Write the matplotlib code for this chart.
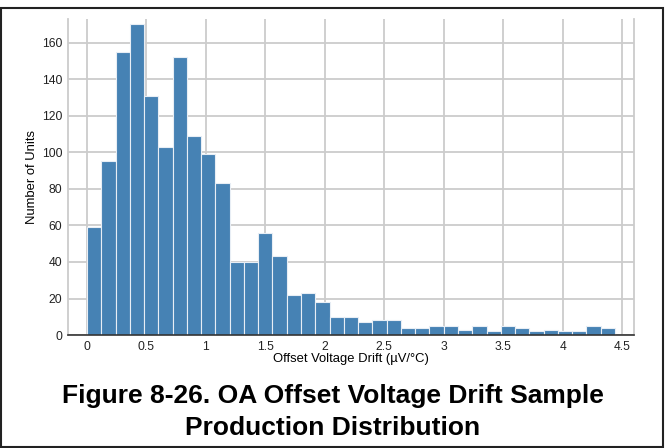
#!/usr/bin/env python3
import numpy as np
import matplotlib.pyplot as plt
from matplotlib.patches import Rectangle

# ================================
# DATA
# ================================

BIN_WIDTH = 0.12
counts = [59, 95, 155, 170, 131, 103, 152, 109, 99, 83,
          40, 40, 56, 43, 22, 23, 18, 10, 10, 7,
          8, 8, 4, 4, 5, 5, 3, 5, 2, 5,
          4, 2, 3, 2, 2, 5, 4]
bin_left = np.arange(len(counts)) * BIN_WIDTH

x_ticks = [0, 0.5, 1, 1.5, 2, 2.5, 3, 3.5, 4, 4.5]
x_tick_labels = ["0", "0.5", "1", "1.5", "2", "2.5", "3", "3.5", "4", "4.5"]
y_ticks = [0, 20, 40, 60, 80, 100, 120, 140, 160]

TITLE = "Figure 8-26. OA Offset Voltage Drift Sample\nProduction Distribution"

# ================================
# PLOT
# ================================

plt.rcParams["font.family"] = ["Liberation Sans", "DejaVu Sans"]

fig = plt.figure(figsize=(6.66, 4.48), dpi=100)
ax = fig.add_axes([0.102, 0.252, 0.85, 0.706])

ax.bar(bin_left, counts, width=BIN_WIDTH, align="edge",
       color="#4682b4", edgecolor="#e8eef5", linewidth=0.8, zorder=3)

ax.set_xlim(-0.16, 4.6)
ax.set_ylim(0, 173)
ax.set_xticks(x_ticks)
ax.set_xticklabels(x_tick_labels)
ax.set_yticks(y_ticks)

ax.grid(True, color="#cccccc", linewidth=1.3, zorder=0)
ax.tick_params(length=0, labelsize=8.7, colors="#222222", pad=4)

for side in ["left", "right"]:
    ax.spines[side].set_color("#cccccc")
    ax.spines[side].set_linewidth(1.3)
ax.spines["top"].set_visible(False)
ax.spines["bottom"].set_color("#333333")
ax.spines["bottom"].set_linewidth(1.2)
ax.spines["bottom"].set_zorder(4)

ax.set_xlabel("Offset Voltage Drift (µV/°C)", fontsize=9.4, labelpad=0)
ax.set_ylabel("Number of Units", fontsize=9.4, labelpad=3)

fig.text(0.5, 0.08, TITLE, ha="center", va="center", fontsize=19,
         fontweight="bold", linespacing=1.45)

# figure frame
fig.patches.append(Rectangle((0.001, 0.002), 0.995, 0.98, transform=fig.transFigure,
                             fill=False, edgecolor="#222222", linewidth=1.5))

fig.savefig("out.png", dpi=100)
